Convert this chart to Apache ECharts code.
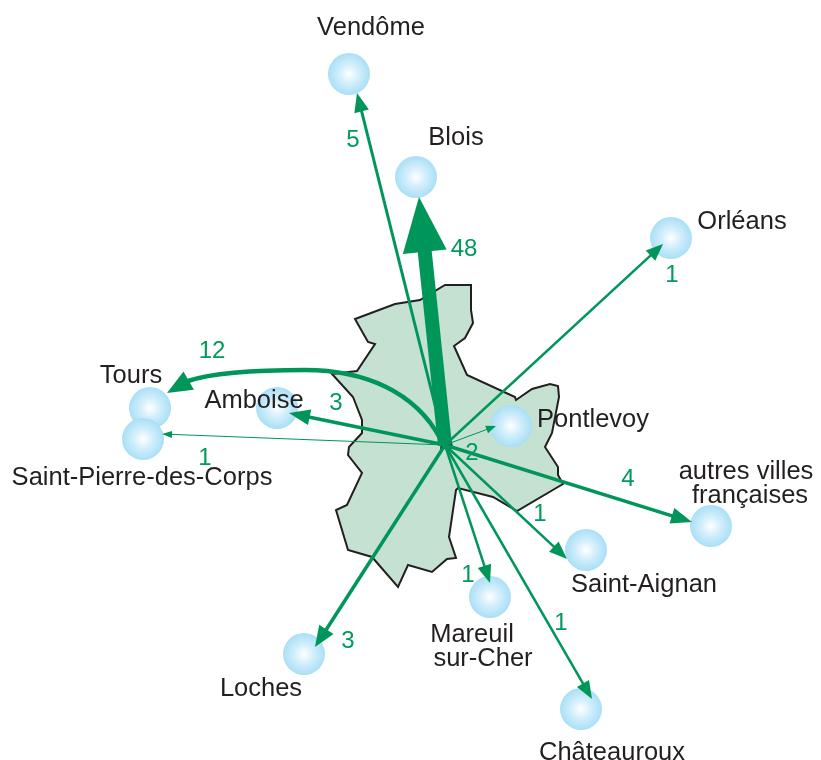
<!DOCTYPE html>
<html>
<head>
<meta charset="utf-8">
<title>Flux</title>
<style>
  html, body { margin: 0; padding: 0; background: #fff; }
  #chart { width: 821px; height: 760px; }
</style>
<script src="https://cdn.jsdelivr.net/npm/echarts@6/dist/echarts.min.js"></script>
</head>
<body>
<div id="chart"></div>
<script>
// commune outline, in picture coordinates
const regionOutline = [
  [355, 319], [395, 304], [420, 300], [445, 285], [471, 285], [471, 310], [473, 323],
  [465, 338], [454, 346], [467, 375], [515, 397], [516, 400], [532, 389], [550, 384],
  [558, 386], [559, 397], [552, 433], [545, 447], [558, 467], [558, 475], [563, 484],
  [517, 511], [493, 497], [458, 488], [456, 490], [449, 537], [456, 558], [447, 559],
  [432, 572], [408, 565], [398, 587], [372, 557], [348, 550], [336, 510], [347, 505],
  [362, 473], [348, 455], [349, 447], [362, 433], [362, 420], [353, 397], [332, 374],
  [357, 371], [375, 344], [368, 342]
]
const originMark = [[440, 449], [441, 443], [452, 441], [453, 449]]
const flowOrigin = [445, 445]

const placeNames = ['Vendôme', 'Blois', 'Orléans', 'Tours', 'Saint-Pierre-des-Corps', 'Amboise',
  'Pontlevoy', 'autres villes françaises', 'Saint-Aignan', 'Mareuil sur-Cher', 'Châteauroux', 'Loches']
const placeX = [349, 416, 671, 150, 143, 277, 511, 711, 586, 490, 581, 304]
const placeY = [74, 177, 238, 408, 439, 408, 426, 526, 550, 597, 709, 654]

const flowValues = [5, 48, 1, 12, 1, 3, 2, 4, 1, 1, 1, 3]
const flowTipX = [357, 419, 663, 167, 162, 289, 496, 692, 567, 490, 592, 315]
const flowTipY = [93, 197, 244, 393, 434, 413, 426, 522, 559, 583, 699, 647]
// the Tours flow bends: start, two controls, joint, two controls, end
const toursCurve = [[440, 438], [415, 392], [365, 370], [305, 370], [260, 370], [215, 372], [188, 381]]

const labelTexts = ['Vendôme', 'Blois', 'Orléans', 'Tours', 'Amboise', 'Pontlevoy', 'Saint-Pierre-des-Corps',
  'autres villes', 'françaises', 'Saint-Aignan', 'Mareuil', 'sur-Cher', 'Loches', 'Châteauroux']
const labelX = [371, 456, 742, 131, 254, 593, 142, 746, 750, 644, 472, 483, 261, 612]
const labelY = [28, 138, 222, 376, 401, 420, 478, 472, 496, 585, 635, 659, 689, 753]

const valueLabelX = [353, 464, 672, 212, 205, 336, 472, 628, 540, 468, 561, 348]
const valueLabelY = [140, 249, 275, 351, 458, 403, 453, 479, 514, 575, 623, 641]

// shaft width, head length, head width for each flow
const flowWidths = [3, 14, 2.5, 4.5, 1, 3.5, 1, 3.5, 2.5, 2.5, 2.5, 3.5]
const headLengths = [19, 55, 17, 25, 10, 21, 10, 21, 18, 18, 18, 21]
const headWidths = [15, 44, 14, 21, 7, 16, 8, 16, 14, 14, 14, 17]

const green = '#00965a'
const ink = '#231f20'

let chart = echarts.init(document.getElementById('chart'))

const renderFlow = (params, api) => {
  const i = api.value(3)
  const tip = api.coord([api.value(0), api.value(1)])
  const from = api.coord(flowOrigin)
  const children = []
  let start = from
  if (flowValues[i] === 12) {
    const p = toursCurve.map(c => api.coord(c))
    start = p[6]
    for (const k of [0, 3]) {
      children.push({
        type: 'bezierCurve',
        shape: {
          x1: p[k][0], y1: p[k][1], cpx1: p[k + 1][0], cpy1: p[k + 1][1],
          cpx2: p[k + 2][0], cpy2: p[k + 2][1], x2: p[k + 3][0], y2: p[k + 3][1]
        },
        style: {stroke: green, lineWidth: flowWidths[i], fill: null}
      })
    }
  }
  const dx = tip[0] - start[0]
  const dy = tip[1] - start[1]
  const len = Math.sqrt(dx * dx + dy * dy)
  const ux = dx / len
  const uy = dy / len
  const bx = tip[0] - ux * headLengths[i]
  const by = tip[1] - uy * headLengths[i]
  const hw = headWidths[i] / 2
  if (flowValues[i] !== 12) {
    children.push({
      type: 'line',
      shape: {x1: from[0], y1: from[1], x2: bx + ux, y2: by + uy},
      style: {stroke: green, lineWidth: flowWidths[i]}
    })
  }
  children.push({
    type: 'polygon',
    shape: {points: [tip, [bx - uy * hw, by + ux * hw], [bx + uy * hw, by - ux * hw]]},
    style: {fill: green}
  })
  return {type: 'group', children}
}

const bubble = new echarts.graphic.RadialGradient(0.5, 0.5, 0.5, [
  {offset: 0, color: '#ffffff'},
  {offset: 0.45, color: '#d3effb'},
  {offset: 1, color: '#a9dff6'}
])

const textSeries = (data, color, size) => ({
  type: 'scatter',
  symbolSize: 0,
  z: 4,
  silent: true,
  itemStyle: {opacity: 1},
  data,
  label: {
    show: true,
    position: 'inside',
    formatter: (p) => p.data[2],
    color,
    fontFamily: 'Liberation Sans',
    fontSize: size
  }
})

chart.setOption({
  animation: false,
  backgroundColor: '#fff',
  grid: {left: 0, right: 0, top: 0, bottom: 0},
  xAxis: {type: 'value', min: 0, max: 821, show: false},
  yAxis: {type: 'value', min: 0, max: 760, inverse: true, show: false},
  series: [
    {
      type: 'custom',
      z: 1,
      silent: true,
      clip: false,
      data: [[0, 0]],
      renderItem: (params, api) => ({
        type: 'group',
        children: [
          {
            type: 'polygon',
            shape: {points: regionOutline.map(p => api.coord(p))},
            style: {fill: '#c4e1d2', stroke: ink, lineWidth: 2, lineJoin: 'miter'}
          },
          {
            type: 'polygon',
            shape: {points: originMark.map(p => api.coord(p))},
            style: {fill: ink}
          }
        ]
      })
    },
    {
      type: 'scatter',
      z: 2,
      silent: true,
      symbol: 'circle',
      symbolSize: 42,
      itemStyle: {color: bubble, opacity: 1},
      data: placeX.map((x, i) => [x, placeY[i], placeNames[i]])
    },
    {
      type: 'custom',
      z: 3,
      silent: true,
      clip: false,
      data: flowValues.map((v, i) => [flowTipX[i], flowTipY[i], v, i]),
      renderItem: renderFlow
    },
    textSeries(labelTexts.map((t, i) => [labelX[i], labelY[i], t]), ink, 25.5),
    textSeries(flowValues.map((v, i) => [valueLabelX[i], valueLabelY[i], String(v)]), '#009a5c', 24)
  ]
})
</script>
</body>
</html>
